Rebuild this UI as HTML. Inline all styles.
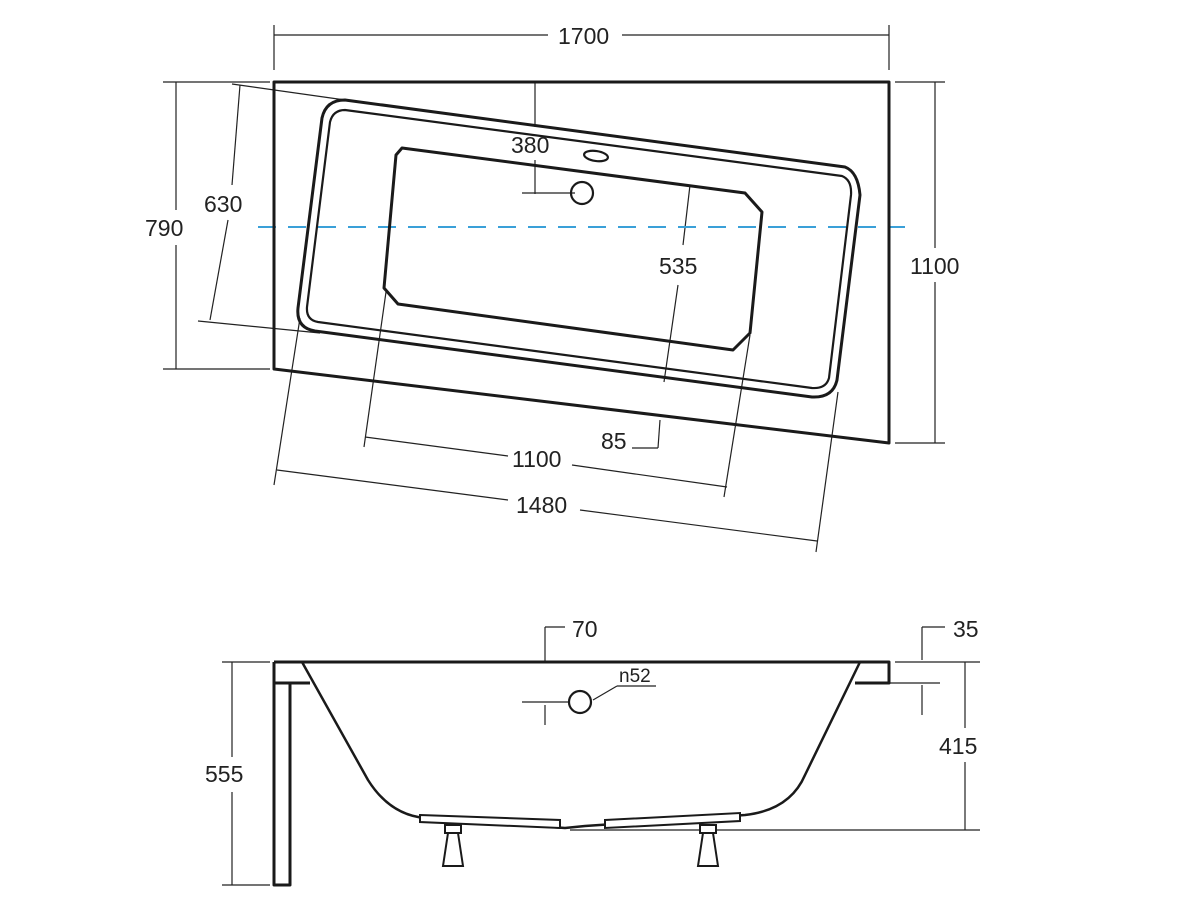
<!DOCTYPE html><html><head><style>body{margin:0;background:#fff}svg{display:block}text{font-family:"Liberation Sans",sans-serif;font-size:23px;fill:#222}</style></head><body>
<svg width="1200" height="900" viewBox="0 0 1200 900" xmlns="http://www.w3.org/2000/svg">
<g fill="none" stroke="#222" stroke-width="1.2">
<line x1="274" y1="35" x2="548" y2="35"/><line x1="622" y1="35" x2="889" y2="35"/>
<line x1="274" y1="25" x2="274" y2="70"/><line x1="889" y1="25" x2="889" y2="70"/>
<line x1="935" y1="82" x2="935" y2="248"/><line x1="935" y1="282" x2="935" y2="443"/>
<line x1="895" y1="82" x2="945" y2="82"/><line x1="895" y1="443" x2="945" y2="443"/>
<line x1="176" y1="82" x2="176" y2="210"/><line x1="176" y1="245" x2="176" y2="369"/>
<line x1="163" y1="82" x2="270" y2="82"/><line x1="163" y1="369" x2="270" y2="369"/>
<line x1="240" y1="85" x2="232" y2="185"/><line x1="228" y1="220" x2="210" y2="320"/>
<line x1="232" y1="84" x2="345" y2="100"/><line x1="198" y1="321" x2="320" y2="333"/>
<line x1="535" y1="82" x2="535" y2="127"/><line x1="535" y1="160" x2="535" y2="194"/>
<line x1="522" y1="193" x2="575" y2="193"/>
<line x1="690" y1="185" x2="683" y2="245"/><line x1="678" y1="285" x2="664" y2="382"/>
<line x1="660" y1="420" x2="658" y2="448"/><line x1="658" y1="448" x2="632" y2="448"/>
<line x1="365" y1="437" x2="508" y2="456"/><line x1="572" y1="465" x2="727" y2="487"/>
<line x1="364" y1="447" x2="386" y2="292"/><line x1="724" y1="497" x2="750" y2="335"/>
<line x1="277" y1="470" x2="508" y2="500"/><line x1="580" y1="510" x2="817" y2="541"/>
<line x1="274" y1="485" x2="300" y2="318"/><line x1="816" y1="552" x2="838" y2="392"/>
<line x1="232" y1="662" x2="232" y2="757"/><line x1="232" y1="792" x2="232" y2="885"/>
<line x1="222" y1="662" x2="270" y2="662"/><line x1="222" y1="885" x2="270" y2="885"/>
<line x1="965" y1="662" x2="965" y2="728"/><line x1="965" y1="762" x2="965" y2="830"/>
<line x1="895" y1="662" x2="980" y2="662"/><line x1="570" y1="830" x2="980" y2="830"/>
<line x1="922" y1="627" x2="922" y2="660"/><line x1="922" y1="627" x2="945" y2="627"/>
<line x1="922" y1="685" x2="922" y2="715"/><line x1="890" y1="683" x2="940" y2="683"/>
<line x1="545" y1="627" x2="545" y2="662"/><line x1="545" y1="627" x2="565" y2="627"/>
<line x1="522" y1="702" x2="570" y2="702"/><line x1="545" y1="705" x2="545" y2="725"/>
<line x1="617" y1="686" x2="656" y2="686"/><line x1="617" y1="686" x2="593" y2="700"/>
</g>
<line x1="258" y1="227" x2="905" y2="227" stroke="#3aa0d8" stroke-width="2" stroke-dasharray="18,12"/>
<g fill="none" stroke="#1a1a1a" stroke-width="3" stroke-linejoin="round">
<polygon points="274,82 889,82 889,443 274,369"/>
<path d="M345,100 L845,167 Q858,172 860,195 L837,380 Q833,398 812,397 L315,331 Q296,328 298,308 L322,118 Q326,100 345,100 Z"/>
<path d="M345,110 L842,176 Q852,180 851,195 L829,378 Q826,389 812,388 L318,322 Q306,320 307,307 L330,122 Q333,110 345,110 Z" stroke-width="2.2"/>
<path d="M402,148 L745,193 L762,212 L750,333 L733,350 L398,304 L384,288 L396,155 Z"/>
<circle cx="582" cy="193" r="11" stroke-width="2.2"/>
<ellipse cx="596" cy="156" rx="12" ry="5" transform="rotate(8 596 156)" stroke-width="2.2"/>
<line x1="274" y1="662" x2="889" y2="662"/>
<polyline points="855,662 889,662 889,683 855,683"/>
<polyline points="274,662 274,885 290,885 290,683 310,683"/>
<line x1="274" y1="683" x2="290" y2="683"/>
<path d="M302,662 L368,780 Q390,815 425,818 L565,828 L585,826 L745,815 Q790,810 805,775 L860,662" stroke-width="2.5"/>
<circle cx="580" cy="702" r="11" stroke-width="2.2"/>
</g>
<g fill="#fff" stroke="#1a1a1a" stroke-width="2">
<polygon points="420,815 560,820 560,828 420,822"/>
<polygon points="605,820 740,813 740,821 605,828"/>
<rect x="445" y="825" width="16" height="8"/><path d="M448,833 L458,833 L463,866 L443,866 Z"/>
<rect x="700" y="825" width="16" height="8"/><path d="M703,833 L713,833 L718,866 L698,866 Z"/>
</g>
<g>
<text x="558" y="44">1700</text>
<text x="910" y="274">1100</text>
<text x="145" y="236">790</text>
<text x="204" y="212">630</text>
<text x="511" y="153">380</text>
<text x="659" y="274">535</text>
<text x="601" y="449">85</text>
<text x="512" y="467">1100</text>
<text x="516" y="513">1480</text>
<text x="572" y="637">70</text>
<text x="953" y="637">35</text>
<text x="939" y="754">415</text>
<text x="205" y="782">555</text>
<text x="619" y="682" style="font-size:19px">n52</text>
</g>
</svg>
</body></html>
